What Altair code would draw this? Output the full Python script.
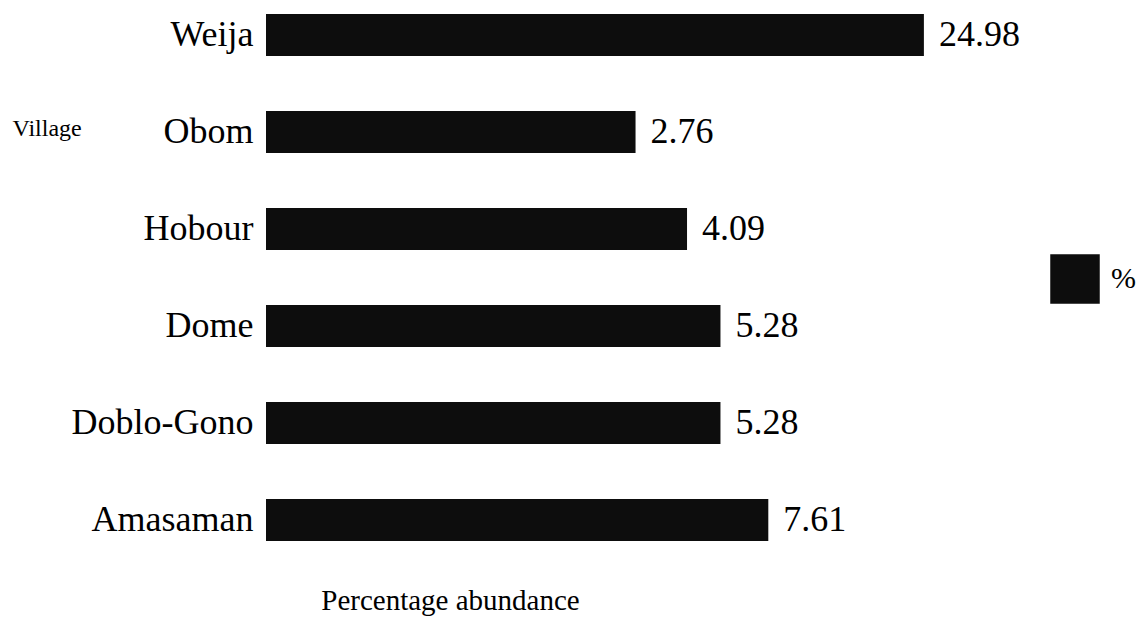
import altair as alt
import pandas as pd

villages = ["Weija", "Obom", "Hobour", "Dome", "Doblo-Gono", "Amasaman"]
percent = [24.98, 2.76, 4.09, 5.28, 5.28, 7.61]
labels = ["24.98", "2.76", "4.09", "5.28", "5.28", "7.61"]

df = pd.DataFrame({"Village": villages, "value": percent, "label": labels, "series": ["%"] * len(villages)})

FONT = "Liberation Serif"
W, H = 658, 555
LEFT = 266
XMIN = 0.164

x_scale = alt.Scale(type="log", domain=[XMIN, 25], nice=False)
y_enc = alt.Y(
    "Village:N",
    sort=villages,
    scale=alt.Scale(paddingInner=0.567, paddingOuter=0.144),
    axis=alt.Axis(
        title="Village",
        titleAngle=0,
        titleAlign="left",
        titleBaseline="middle",
        titleX=12 - LEFT,
        titleY=128,
        titleFont=FONT,
        titleFontSize=24,
        titleFontWeight="normal",
        titleColor="black",
        labelFont=FONT,
        labelFontSize=36,
        labelColor="black",
        labelPadding=13,
        labelLimit=400,
        ticks=False,
        domain=False,
        grid=False,
    ),
)

bars = alt.Chart(df).mark_bar(color="#0d0d0d").encode(
    x=alt.X(
        "value:Q",
        scale=x_scale,
        axis=alt.Axis(
            title="Percentage abundance",
            labels=False,
            ticks=False,
            domain=False,
            grid=False,
            titleFont=FONT,
            titleFontSize=29,
            titleFontWeight="normal",
            titleColor="black",
            titleX=450 - LEFT,
            titleY=45,
            titleAlign="center",
            titleBaseline="middle",
        ),
    ),
    x2=alt.datum(XMIN),
    y=y_enc,
    color=alt.Color(
        "series:N",
        scale=alt.Scale(range=["#0d0d0d"]),
        legend=alt.Legend(
            title=None,
            orient="none",
            legendX=1050 - LEFT,
            legendY=254,
            symbolType="square",
            symbolSize=2450,
            symbolStrokeWidth=0,
            labelFont=FONT,
            labelFontSize=30,
            labelColor="black",
            labelOffset=11,
        ),
    ),
)

text = alt.Chart(df).mark_text(
    align="left", baseline="middle", dx=15, font=FONT, fontSize=36, color="black"
).encode(
    x=alt.X("value:Q", scale=x_scale),
    y=alt.Y("Village:N", sort=villages),
    text="label:N",
)

chart = (
    alt.layer(bars, text)
    .properties(
        width=W,
        height=H,
        background="white",
        autosize=alt.AutoSizeParams(type="none"),
        padding={"left": LEFT, "top": 0, "right": 1140 - LEFT - W, "bottom": 622 - H},
    )
    .configure_view(stroke="transparent", strokeWidth=0)
)

chart.save("out.html", embed_options={"renderer": "svg", "actions": False})
